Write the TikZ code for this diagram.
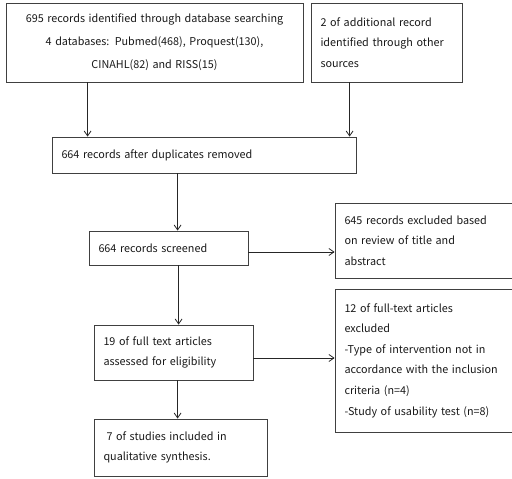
\documentclass[tikz,border=0pt]{standalone}
\usepackage{fontspec}
\setmainfont{Noto Sans CJK KR}
\usetikzlibrary{positioning,arrows.meta}
\begin{document}
\begin{tikzpicture}[x=1pt,y=-1pt,>={Straight Barb[length=5pt,width=7pt]},font=\fontsize{10.8}{20.6}\selectfont,
  box/.style={draw=black!75,rectangle,line width=0.8pt,inner xsep=9.5pt,inner ysep=0pt,align=left,text=black!90}]
 \useasboundingbox (0,0) rectangle (512,479);
 \node[box,text width=278pt,minimum height=79pt,align=center,font=\fontsize{10.8}{23}\selectfont] (s_db) at (154.5,42.5)
  {695 records identified through database searching\\4 databases: Pubmed(468), Proquest(130),\\CINAHL(82) and RISS(15)};
 \node[box,text width=132pt,minimum height=79pt] (s_oth) at (386.5,42.5)
  {2 of additional record\\identified through other\\sources};
 \node[box,text width=285pt,minimum height=36pt] (s_dup) at (204,155) {664 records after duplicates removed};
 \node[box,text width=140pt,minimum height=34pt] (s_scr) at (168.5,248) {664 records screened};
 \node[box,text width=161pt,minimum height=75pt] (s_exc) at (425,240.5)
  {645 records excluded based\\on review of title and\\abstract};
 \node[box,text width=140pt,minimum height=55pt] (s_full) at (173.5,352.5)
  {19 of full text articles\\assessed for eligibility};
 \node[box,text width=161pt,minimum height=143pt] (s_fex) at (425,360.5)
  {12 of full-text articles\\excluded\\-Type of intervention not in\\accordance with the inclusion\\criteria (n=4)\\-Study of usability test (n=8)};
 \node[box,text width=154pt,minimum height=57pt] (s_inc) at (180.5,447.5)
  {\hspace*{3pt}7 of studies included in\\qualitative synthesis.};
 \path[->,black!85,line width=0.8pt]
  ([xshift=82pt]s_db.south west) edge ([xshift=82pt]s_db.south west |- s_dup.north)
  ([xshift=39pt]s_oth.south west) edge ([xshift=39pt]s_oth.south west |- s_dup.north)
  ([xshift=126pt]s_dup.south west) edge ([xshift=126pt]s_dup.south west |- s_scr.north)
  ([yshift=-4pt]s_scr.east) edge ([yshift=-4pt]s_scr.east -| s_exc.west)
  ([xshift=90pt]s_scr.south west) edge ([xshift=90pt]s_scr.south west |- s_full.north)
  ([yshift=-5.5pt]s_full.east) edge ([yshift=-5.5pt]s_full.east -| s_fex.west)
  ([xshift=84pt]s_full.south west) edge ([xshift=84pt]s_full.south west |- s_inc.north);
\end{tikzpicture}
\end{document}
